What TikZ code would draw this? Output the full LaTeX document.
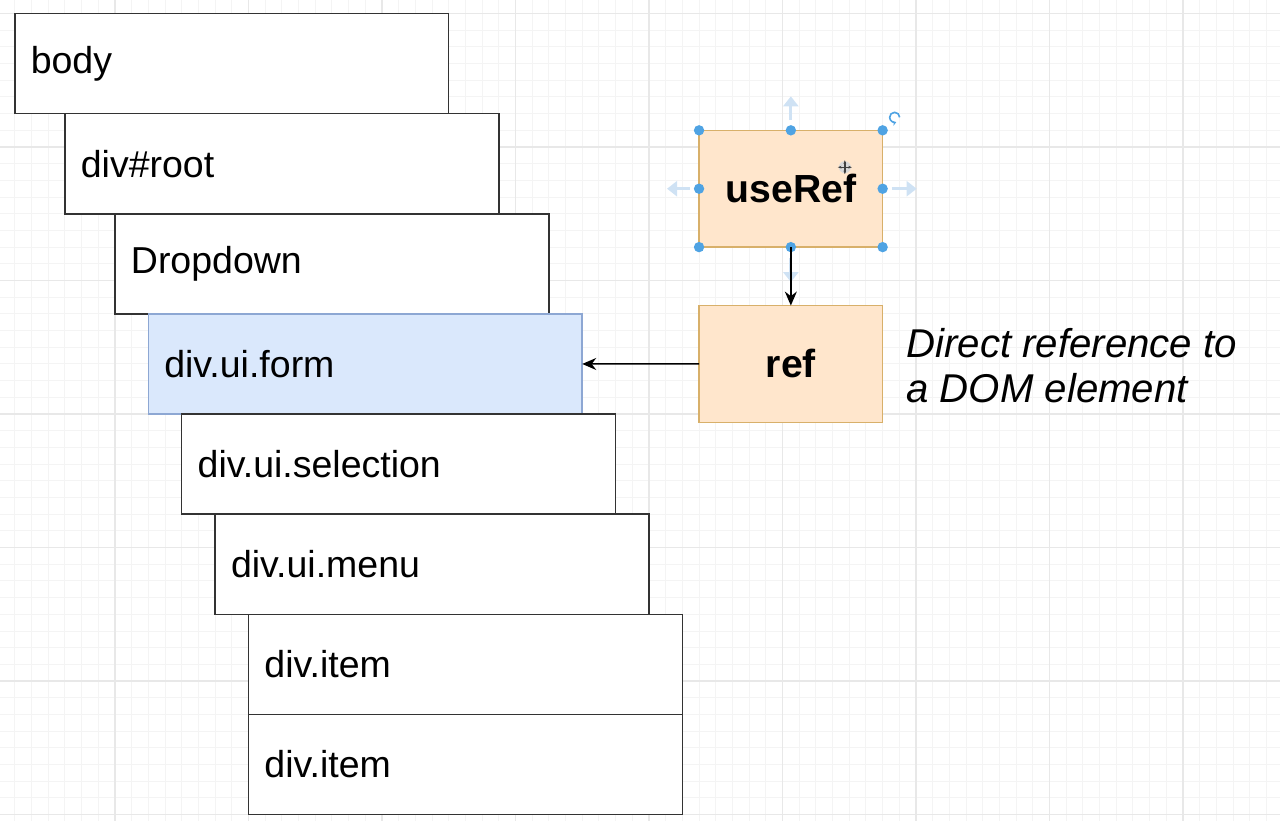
\documentclass[tikz,border=0pt]{standalone}
\usepackage{fontspec}
\setmainfont{Liberation Sans}
\usetikzlibrary{arrows.meta}

\definecolor{gridminor}{HTML}{F4F4F4}
\definecolor{gridmajor}{HTML}{E8E8E8}
\definecolor{boxline}{HTML}{333333}
\definecolor{formfill}{HTML}{DAE8FC}
\definecolor{formline}{HTML}{8DA7D3}
\definecolor{hookfill}{HTML}{FFE6CC}
\definecolor{hookline}{HTML}{D8B06A}
\definecolor{handleblue}{HTML}{4FA3E3}
\definecolor{handlepale}{HTML}{CFE2F4}

\newcommand{\labelfont}{\fontsize{18.75pt}{22.5pt}\selectfont}

\tikzset{%
        domnode/.style={
                rectangle,
                draw=boxline,
                fill=white,
                line width=0.75pt,
                anchor=north west,
                outer sep=0pt,
                inner xsep=8pt,
                inner ysep=0pt,
                text width=200.97pt,
                minimum height=50.07pt,
                align=left
            },
        formnode/.style={
                fill=formfill,
                draw=formline
            },
        hookbox/.style={
                rectangle,
                draw=hookline,
                fill=hookfill,
                line width=0.75pt,
                anchor=north west,
                outer sep=0pt,
                minimum width=91.8pt,
                minimum height=58.4pt,
                font=\fontsize{19.6pt}{22.5pt}\selectfont\bfseries
            },
        note/.style={
                anchor=west,
                inner sep=0pt,
                align=left,
                font=\fontsize{20.1pt}{22.5pt}\selectfont\itshape
            },
        handle/.style={
                fill=handleblue
            },
        handlearrow/.style={
                draw=handlepale,
                line width=1.6pt,
                -{Triangle[length=5pt,width=7.5pt]}
            }
    }

\begin{document}
\begin{tikzpicture}[x=8.345pt, y=-8.345pt, >={Stealth[length=7pt,width=6pt]},
    every node/.style={font=\labelfont}]

    \useasboundingbox (-0.887,-0.809) rectangle (75.81,48.38);
    \clip (-0.887,-0.809) rectangle (75.81,48.38);

    % background grid:
        \foreach \gx in {-1,...,76} \draw[gridminor, line width=0.5pt] (\gx,-1) -- (\gx,49);
        \foreach \gy in {-1,...,49} \draw[gridminor, line width=0.5pt] (-1,\gy) -- (76,\gy);
        \foreach \gx in {-2,6,...,70} \draw[gridmajor, line width=0.6pt] (\gx,-1) -- (\gx,49);
        \foreach \gy in {0,8,...,48} \draw[gridmajor, line width=0.6pt] (-1,\gy) -- (76,\gy);

    % DOM tree:
        \node [domnode]  (body) at (0,0) {body};
        \node [domnode]  (root) at (3,6) {div\#root};
        \node [domnode]  (dropdown) at (6,12) {Dropdown};
        \node [domnode, formnode]  (form) at (8,18) {div.ui.form};
        \node [domnode]  (selection) at (10,24) {div.ui.selection};
        \node [domnode]  (menu) at (12,30) {div.ui.menu};
        \node [domnode]  (itema) at (14,36) {div.item};
        \node [domnode]  (itemb) at (14,42) {div.item};

    % hook:
        \node [hookbox]  (useref) at (41,7) {useRef};
        \node [hookbox]  (ref) at (41,17.5) {ref};
        \node [note]  (refnote) at (53.4,21.1) {Direct reference to\\a DOM element};

    % selection handles:
        \draw[handlearrow] ([yshift=5pt]useref.north) -- ([yshift=17pt]useref.north);
        \draw[handlearrow] ([xshift=-4.5pt]useref.west) -- ([xshift=-16pt]useref.west);
        \draw[handlearrow] ([xshift=4.5pt]useref.east) -- ([xshift=17pt]useref.east);
        \draw[handlearrow] ([yshift=-5.5pt]useref.south) -- ([yshift=-17.5pt]useref.south);
        \foreach \anc in {north west, north, north east, west, east, south west, south, south east}
            \fill[handle] (useref.\anc) circle (2.6pt);
        \draw[handleblue, line width=0.8pt, -{Stealth[length=2pt,width=2.5pt]}]
            ([xshift=8.5pt,yshift=6.5pt]useref.north east) arc[start angle=0, end angle=290, radius=2.5pt];
        \fill[black!15] ([xshift=27pt,yshift=10.75pt]useref.center) circle (3pt);
        \draw[black!75, line width=0.7pt, {Stealth[length=1.8pt]}-{Stealth[length=1.8pt]}]
            ([xshift=23.5pt,yshift=10.75pt]useref.center) -- ([xshift=30.5pt,yshift=10.75pt]useref.center);
        \draw[black!75, line width=0.7pt, {Stealth[length=1.8pt]}-{Stealth[length=1.8pt]}]
            ([xshift=27pt,yshift=7.25pt]useref.center) -- ([xshift=27pt,yshift=14.25pt]useref.center);

        \draw[->, line width=0.75pt] (useref.south) -- (ref.north);
        \draw[->, line width=0.75pt] (ref.west) -- (form.east);
\end{tikzpicture}
\end{document}
